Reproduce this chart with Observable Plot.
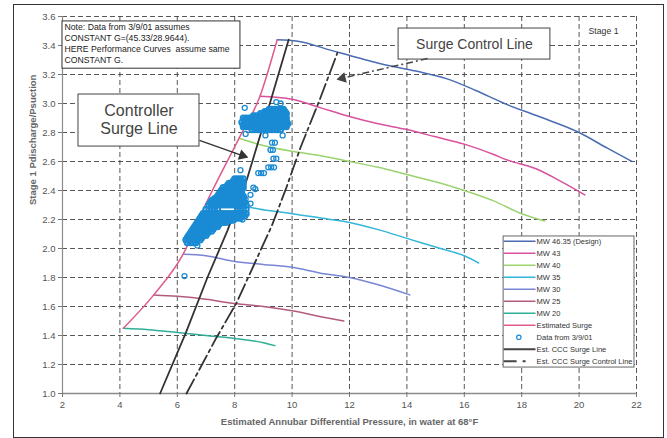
<!DOCTYPE html>
<html><head><meta charset="utf-8">
<script src="https://cdn.jsdelivr.net/npm/d3@7"></script>
<script src="https://cdn.jsdelivr.net/npm/@observablehq/plot@0.6"></script>
<style>
html,body{margin:0;padding:0;background:#fff;}
#wrap{position:relative;width:667px;height:438px;overflow:hidden;}
#frame{position:absolute;left:13px;top:4px;width:649px;height:432px;border:1px solid #333;pointer-events:none;}
</style></head><body>
<div id="wrap"><div id="frame"></div></div>
<script>
// ---- axes / ticks ----
const xTicks = [2,4,6,8,10,12,14,16,18,20,22];
const yTicks = [1.0,1.2,1.4,1.6,1.8,2.0,2.2,2.4,2.6,2.8,3.0,3.2,3.4,3.6];
const xLabel = "Estimated Annubar Differential Pressure, in water at 68°F";
const yLabel = "Stage 1 Pdischarge/Psuction";

// ---- performance curves [x, y] ----
const mw4635 = [[9.48,3.44],[10.2,3.43],[11.3,3.37],[12.4,3.31],[13.4,3.26],[14.4,3.22],[15.4,3.17],[16.4,3.09],[17.4,3.0],[18.6,2.91],[20,2.8],[21.0,2.69],[21.85,2.6]];
const mw43 = [[8.88,3.05],[10,3.03],[11,2.97],[12,2.91],[13,2.86],[14,2.82],[15,2.77],[16,2.72],[17,2.65],[17.5,2.61],[18.5,2.55],[19.3,2.47],[20.2,2.37]];
const mw40 = [[8.15,2.76],[9,2.71],[10,2.67],[11,2.64],[12,2.6],[13,2.56],[14,2.51],[15,2.46],[16,2.4],[17,2.33],[18,2.24],[18.8,2.19]];
const mw35 = [[7.0,2.31],[8.3,2.29],[9.25,2.26],[10,2.24],[11,2.21],[12,2.18],[13,2.13],[14,2.07],[15,2.01],[16,1.95],[16.5,1.9]];
const mw30 = [[6.2,1.96],[7,1.95],[8,1.91],[9,1.89],[10,1.87],[11,1.83],[12,1.8],[13,1.75],[14.1,1.68]];
const mw25 = [[5.18,1.68],[6,1.67],[7,1.65],[8,1.62],[9,1.6],[10,1.57],[11,1.53],[11.8,1.5]];
const mw20 = [[4.12,1.45],[5,1.44],[6,1.42],[7,1.4],[8,1.38],[9,1.35],[9.4,1.33]];
const estSurge = [[4.12,1.45],[5.18,1.68],[6.2,1.96],[7.0,2.31],[8.15,2.76],[8.88,3.05],[9.48,3.44]];
const cccSurge = [[5.4,1.0],[6.3,1.42],[7.05,1.8],[7.74,2.12],[8.43,2.48],[9.15,2.95],[9.88,3.44]];
const cccControl = [[6.32,1.0],[7.35,1.38],[8.05,1.62],[8.7,1.9],[9.3,2.16],[9.8,2.42],[10.3,2.7],[10.95,3.02],[11.58,3.35]];

// ---- Data from 3/9/01 : rows of [y, [x values]] ----
const upperRows = [
  [2.96,[9.2,9.3,9.4,9.5,9.6,9.7]],
  [2.945,[9.05,9.15,9.25,9.35,9.45,9.55,9.65,9.75]],
  [2.93,[8.9,9.0,9.1,9.2,9.3,9.4,9.5,9.6,9.7,9.8]],
  [2.915,[8.65,8.75,8.85,8.95,9.05,9.15,9.25,9.35,9.45,9.55,9.65,9.75]],
  [2.90,[8.3,8.4,8.5,8.6,8.7,8.8,8.9,9.0,9.1,9.2,9.3,9.4,9.5,9.6,9.7,9.8]],
  [2.885,[8.35,8.45,8.55,8.65,8.75,8.85,8.95,9.05,9.15,9.25,9.35,9.45,9.55,9.65,9.75]],
  [2.87,[8.25,8.35,8.45,8.55,8.65,8.75,8.85,8.95,9.05,9.15,9.25,9.35,9.45,9.55,9.65,9.75,9.82]],
  [2.855,[8.3,8.4,8.5,8.6,8.7,8.8,8.9,9.0,9.1,9.2,9.3,9.4,9.5,9.6,9.7,9.8]],
  [2.84,[8.3,8.4,8.5,8.6,8.7,8.8,8.9,9.0,9.1,9.2,9.3,9.4,9.5,9.6,9.7,9.8]],
  [2.82,[8.6,8.7,8.8,8.9,9.0,9.1,9.2,9.3,9.4,9.5,9.6]]
];
const lowerRows = [
  [2.48,[8.0,8.1,8.2,8.3]],
  [2.465,[7.95,8.05,8.15,8.25]],
  [2.45,[7.8,7.9,8.0,8.1,8.2,8.3]],
  [2.435,[7.75,7.85,7.95,8.05,8.15,8.25]],
  [2.42,[7.6,7.7,7.8,7.9,8.0,8.1,8.2,8.3]],
  [2.405,[7.55,7.65,7.75,7.85,7.95,8.05,8.15,8.25]],
  [2.39,[7.5,7.6,7.7,7.8,7.9,8.0,8.1,8.2]],
  [2.375,[7.45,7.55,7.65,7.75,7.85,7.95,8.05,8.15,8.25]],
  [2.36,[7.4,7.5,7.6,7.7,7.8,7.9,8.0,8.1,8.2,8.3]],
  [2.345,[7.3,7.4,7.5,7.6,7.7,7.8,7.9,8.0,8.1,8.2,8.3]],
  [2.33,[7.2,7.3,7.4,7.5,7.6,7.7,7.8,7.9,8.0,8.1,8.2,8.3]],
  [2.315,[7.15,7.25,7.35,7.45,7.55,7.65,7.75,7.85,7.95,8.05,8.15,8.25,8.35]],
  [2.30,[7.1,7.2,7.3,7.4,7.5,7.6,7.7,7.8,7.9,8.0,8.1,8.2,8.3,8.4]],
  [2.27,[7.0,7.1,7.2,7.3,7.4,8.1,8.2,8.3,8.4]],
  [2.24,[6.9,7.0,7.1,7.2,7.3,7.4,7.5,7.6,7.7,7.8,7.9,8.0,8.1,8.2,8.3,8.4]],
  [2.225,[6.85,6.95,7.05,7.15,7.25,7.35,7.45,7.55,7.65,7.75,7.85,7.95,8.05,8.15,8.25,8.35]],
  [2.21,[6.8,6.9,7.0,7.1,7.2,7.3,7.4,7.5,7.6,7.7,7.8,7.9,8.0,8.1,8.2]],
  [2.195,[6.75,6.85,6.95,7.05,7.15,7.25,7.35,7.45,7.55,7.65,7.75,7.85,7.95]],
  [2.18,[6.7,6.8,6.9,7.0,7.1,7.2,7.3,7.4,7.5,7.6,7.7]],
  [2.165,[6.65,6.75,6.85,6.95,7.05,7.15,7.25,7.35,7.45]],
  [2.15,[6.6,6.7,6.8,6.9,7.0,7.1,7.2,7.3,7.4]],
  [2.135,[6.55,6.65,6.75,6.85,6.95,7.05,7.15,7.25]],
  [2.12,[6.5,6.6,6.7,6.8,6.9,7.0,7.1,7.2]],
  [2.105,[6.45,6.55,6.65,6.75,6.85,6.95,7.05]],
  [2.09,[6.4,6.5,6.6,6.7,6.8,6.9,7.0]],
  [2.075,[6.35,6.45,6.55,6.65,6.75,6.85]],
  [2.06,[6.3,6.4,6.5,6.6,6.7,6.8]],
  [2.04,[6.35,6.45,6.55,6.65]]
];
const midPoints = [[9.3,2.73],[9.4,2.73],[9.25,2.68],[9.33,2.68],[9.35,2.62],[9.45,2.62],[9.17,2.56],[9.27,2.56],[9.37,2.56],[8.82,2.52],[8.92,2.52],[9.02,2.52]];
const strayPoints = [[8.2,2.54],[8.72,2.41],[8.55,2.37],[8.3,2.44],[8.38,2.34],[8.55,2.31],[8.27,2.2],[8.65,2.42],[6.25,1.81],[9.45,3.01],[9.6,3.0],[8.35,2.97],[9.87,2.86],[9.07,2.78],[9.67,2.78],[8.38,2.79],[6.7,2.02]];

// ---- legend ----
const legendLabels = ["MW 46.35 (Design)","MW 43","MW 40","MW 35","MW 30","MW 25","MW 20","Estimated Surge","Data from 3/9/01","Est. CCC Surge Line","Est. CCC Surge Control Line"];
const legendColors = ["#4a6cb3","#d9519e","#9bd36f","#33b6d9","#7986d6","#b35b7e","#2fae98","#e05a8f","#1a8bd4","#444444","#444444"];

// ---- annotation texts ----
const noteText = "Note: Data from 3/9/01 assumes\nCONSTANT G=(45.33/28.9644).\nHERE Performance Curves  assume same\nCONSTANT G.";
const controllerText = "Controller\nSurge Line";
const surgeControlText = "Surge Control Line";
const stageText = "Stage 1";

const font = "'Liberation Sans', Arial, Helvetica, sans-serif";
const X = d => d[0], Y = d => d[1];
const clusterPts = [
  ...upperRows.flatMap(([y, xs]) => xs.map(x => [x, y])),
  ...lowerRows.flatMap(([y, xs]) => xs.map(x => [x, y]))
];
const loosePts = [...midPoints, ...strayPoints];
const legendItems = legendLabels.map((label, i) => ({label, color: legendColors[i], y: 2.05 - i * 0.0828, i}));
const lineItems = legendItems.filter(d => d.i < 8);

const curve = (arr, color) => Plot.line(arr, {x: X, y: Y, stroke: color, strokeWidth: 1.5, curve: "monotone-x"});
const grid = {stroke: "#3a3a3a", strokeOpacity: 0.85, strokeDasharray: "5,3", strokeWidth: 1};

const chart = Plot.plot({
  width: 667, height: 438,
  marginLeft: 62, marginRight: 31, marginTop: 16, marginBottom: 45,
  style: {fontFamily: font, fontSize: "9.5px", color: "#555", background: "transparent", overflow: "visible"},
  x: {domain: [2, 22]},
  y: {domain: [1.0, 3.6]},
  marks: [
    Plot.gridX(xTicks, grid),
    Plot.gridY(yTicks, grid),
    Plot.ruleY([1.0], {stroke: "#8a8a8a", strokeWidth: 1.6}),
    Plot.ruleX([2], {stroke: "#8a8a8a", strokeWidth: 1.2}),
    Plot.axisX(xTicks, {tickSize: 4, tickPadding: 4, tickFormat: d => String(d), label: null, stroke: "#777", fill: "#555"}),
    Plot.axisY(yTicks, {tickSize: 4, tickPadding: 3, tickFormat: d => d.toFixed(1), label: null, stroke: "#777", fill: "#555"}),
    Plot.text([xLabel], {frameAnchor: "bottom", dy: 31, text: d => d, fontWeight: "bold", fontSize: 9.5, fill: "#666"}),
    Plot.text([yLabel], {frameAnchor: "left", dx: -30, rotate: -90, text: d => d, fontWeight: "bold", fontSize: 9.5, fill: "#666"}),
    curve(mw20, legendColors[6]),
    curve(mw25, legendColors[5]),
    curve(mw30, legendColors[4]),
    curve(mw35, legendColors[3]),
    curve(mw40, legendColors[2]),
    curve(mw43, legendColors[1]),
    curve(mw4635, legendColors[0]),
    curve(estSurge, legendColors[7]),
    Plot.line(cccSurge, {x: X, y: Y, stroke: "#333", strokeWidth: 1.8}),
    Plot.line(cccControl, {x: X, y: Y, stroke: "#333", strokeWidth: 1.8, strokeDasharray: "16,4,3,4"}),
    Plot.dot(clusterPts, {x: X, y: Y, r: 2.6, stroke: legendColors[8], strokeWidth: 2}),
    Plot.dot(loosePts, {x: X, y: Y, r: 2.5, stroke: legendColors[8], strokeWidth: 1.3}),
    // note box
    Plot.rect([0], {x1: 2.0, x2: 8.2, y1: 3.24, y2: 3.566, fill: "white", stroke: "#333", strokeWidth: 1}),
    Plot.text([noteText], {x: 2.07, y: 3.417, text: d => d, textAnchor: "start", lineAnchor: "middle", fontSize: 8.7, lineHeight: 1.26, fill: "#222"}),
    // controller surge line box + arrow
    Plot.rect([0], {x1: 2.557, x2: 6.773, y1: 2.703, y2: 3.062, fill: "white", stroke: "#444", strokeWidth: 1}),
    Plot.text([controllerText], {x: 4.665, y: 2.89, text: d => d, textAnchor: "middle", lineAnchor: "middle", fontSize: 16, lineHeight: 1.125, fill: "#444"}),
    Plot.link([0], {x1: 6.773, y1: 2.745, x2: 8.27, y2: 2.641, stroke: "#333", strokeWidth: 1.3}),
    Plot.dot([0], {x: 8.27, y: 2.641, symbol: "triangle", r: 4, fill: "#333", rotate: 109}),
    // surge control line box + arrow
    Plot.rect([0], {x1: 13.71, x2: 19.0, y1: 3.303, y2: 3.517, fill: "white", stroke: "#444", strokeWidth: 1}),
    Plot.text([surgeControlText], {x: 16.355, y: 3.407, text: d => d, textAnchor: "middle", fontSize: 14, fill: "#444"}),
    Plot.link([0], {x1: 14.72, y1: 3.31, x2: 11.756, y2: 3.175, stroke: "#444", strokeWidth: 1.5, strokeDasharray: "7,3,2,3"}),
    Plot.dot([0], {x: 11.756, y: 3.175, symbol: "triangle", r: 4, fill: "#444", rotate: 257}),
    Plot.text([stageText], {x: 20.33, y: 3.497, text: d => d, textAnchor: "start", fontSize: 8.7, fill: "#333"}),
    // legend
    Plot.rect([0], {x1: 17.37, x2: 21.93, y1: 1.179, y2: 2.083, fill: "white", stroke: "#666", strokeWidth: 1}),
    Plot.link(lineItems, {x1: 17.37, x2: 18.48, y1: "y", y2: "y", stroke: "color", strokeWidth: 1.5}),
    Plot.dot(legendItems.filter(d => d.i === 8), {x: 17.9, y: "y", r: 2.2, stroke: "color", strokeWidth: 1.2}),
    Plot.link(legendItems.filter(d => d.i === 9), {x1: 17.37, x2: 18.48, y1: "y", y2: "y", stroke: "color", strokeWidth: 2}),
    Plot.link(legendItems.filter(d => d.i === 10), {x1: 17.37, x2: 18.48, y1: "y", y2: "y", stroke: "color", strokeWidth: 2, strokeDasharray: "13,6,3,10"}),
    Plot.text(legendItems, {x: 18.52, y: "y", text: "label", textAnchor: "start", fontSize: 7.5, fill: "#333"})
  ]
});
document.getElementById("wrap").prepend(chart);
</script>
</body></html>
